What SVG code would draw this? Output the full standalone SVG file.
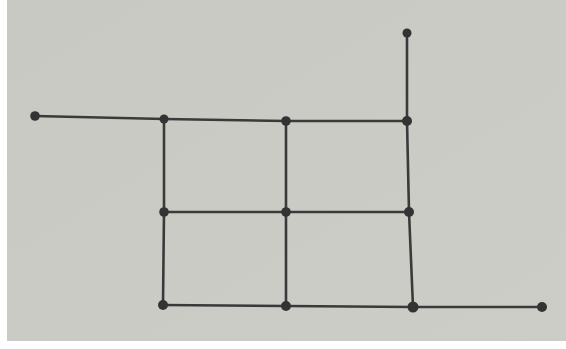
<svg xmlns="http://www.w3.org/2000/svg" width="566" height="349" viewBox="0 0 566 349">
<defs>
<style>
.e{stroke:#3a3a3a;stroke-width:2.6;fill:none;stroke-linecap:round}
.n{fill:#333333}
</style>
<linearGradient id="bg" x1="0" y1="0" x2="1" y2="1">
<stop offset="0" stop-color="#c9c9c4"/>
<stop offset="1" stop-color="#cdcdc8"/>
</linearGradient>
</defs>
<rect width="566" height="349" fill="#ffffff"/>
<rect x="7" y="0" width="559" height="341" fill="url(#bg)"/>
<g id="connectors">
<line class="e" x1="35" y1="116" x2="164" y2="119"/>
<line class="e" x1="164" y1="119" x2="286" y2="121"/>
<line class="e" x1="286" y1="121" x2="407" y2="121"/>
<line class="e" x1="407" y1="33" x2="407" y2="121"/>
<line class="e" x1="164" y1="119" x2="164" y2="212"/>
<line class="e" x1="286" y1="121" x2="286" y2="212"/>
<line class="e" x1="407" y1="121" x2="409" y2="212"/>
<line class="e" x1="164" y1="212" x2="286" y2="212"/>
<line class="e" x1="286" y1="212" x2="409" y2="212"/>
<line class="e" x1="164" y1="212" x2="163" y2="305"/>
<line class="e" x1="286" y1="212" x2="286" y2="306"/>
<line class="e" x1="409" y1="212" x2="413" y2="307"/>
<line class="e" x1="163" y1="305" x2="286" y2="306"/>
<line class="e" x1="286" y1="306" x2="413" y2="307"/>
<line class="e" x1="413" y1="307" x2="542" y2="307"/>
</g>
<g id="n1"><circle class="n" cx="35" cy="116" r="4.8"/></g>
<g id="n2"><circle class="n" cx="164" cy="119" r="4.5"/></g>
<g id="n3"><circle class="n" cx="286" cy="121" r="4.8"/></g>
<g id="n4"><circle class="n" cx="407" cy="121" r="5"/></g>
<g id="n5"><circle class="n" cx="407" cy="33" r="4.5"/></g>
<g id="n6"><circle class="n" cx="164" cy="212" r="4.8"/></g>
<g id="n7"><circle class="n" cx="286" cy="212" r="4.8"/></g>
<g id="n8"><circle class="n" cx="409" cy="212" r="5"/></g>
<g id="n9"><circle class="n" cx="163" cy="305" r="5"/></g>
<g id="n10"><circle class="n" cx="286" cy="306" r="5"/></g>
<g id="n11"><circle class="n" cx="413" cy="307" r="5.5"/></g>
<g id="n12"><circle class="n" cx="542" cy="307" r="5"/></g>
</svg>
